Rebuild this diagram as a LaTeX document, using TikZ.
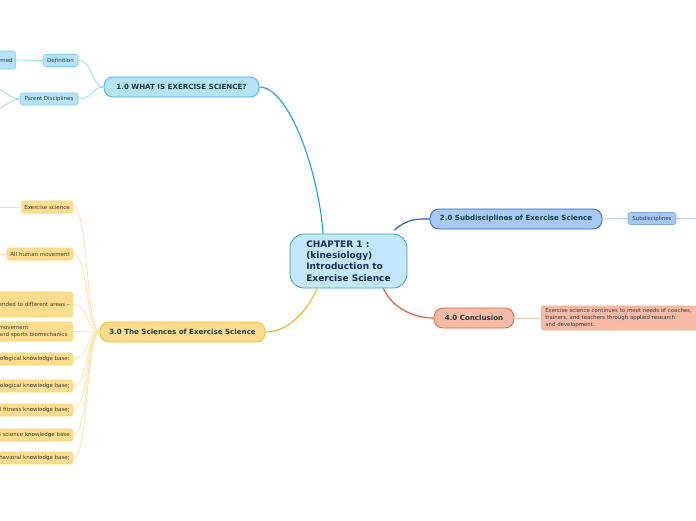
\documentclass[tikz,border=0pt]{standalone}
\usepackage{fontspec}
\setmainfont{DejaVu Sans}
\definecolor{cfill}{HTML}{C2E8FB}
\definecolor{cdraw}{HTML}{3D9AD6}
\definecolor{ctext}{HTML}{1A2B5C}
\definecolor{brtext}{HTML}{17403A}
\definecolor{lftext}{HTML}{3A3A3A}
\definecolor{afill}{HTML}{B5E3FA}
\definecolor{adraw}{HTML}{3DB5EC}
\definecolor{aline}{HTML}{1BA1E2}
\definecolor{aleafd}{HTML}{7FD0F5}
\definecolor{aleafl}{HTML}{8CD5F5}
\definecolor{bfill}{HTML}{A6C8F5}
\definecolor{bdraw}{HTML}{2762C9}
\definecolor{bline}{HTML}{1E58C8}
\definecolor{bleafd}{HTML}{7EA8E8}
\definecolor{bleafl}{HTML}{A6C4F0}
\definecolor{yfill}{HTML}{FFDD8C}
\definecolor{ydraw}{HTML}{F8B820}
\definecolor{yline}{HTML}{F9B31B}
\definecolor{yleafd}{HTML}{FFD36A}
\definecolor{yleafl}{HTML}{FFE099}
\definecolor{rfill}{HTML}{F9BBA6}
\definecolor{rdraw}{HTML}{E8623A}
\definecolor{rline}{HTML}{E7542B}
\definecolor{rleafd}{HTML}{F3A88E}
\definecolor{rleafl}{HTML}{F9C6B4}
\begin{document}
\begin{tikzpicture}[x=1pt,y=-1pt,
  central/.style={draw=cdraw, fill=cfill, line width=0.8pt, rounded corners=14pt,
    minimum width=117pt, minimum height=54pt, align=left, text=ctext,
    font=\fontsize{9}{11.3}\selectfont\bfseries},
  branch/.style={rounded corners=9pt, minimum height=20pt, inner sep=2pt, line width=0.8pt,
    text=brtext, font=\fontsize{7.1}{8}\selectfont\bfseries},
  leaf/.style={rounded corners=2.5pt, minimum height=12pt, inner xsep=3pt, inner ysep=2pt,
    line width=0.6pt, text=lftext, font=\fontsize{5.5}{7}\selectfont},
  abr/.style={branch, draw=adraw, fill=afill},
  bbr/.style={branch, draw=bdraw, fill=bfill},
  ybr/.style={branch, draw=ydraw, fill=yfill},
  rbr/.style={branch, draw=rdraw, fill=rfill},
  aleaf/.style={leaf, draw=aleafd, fill=afill},
  bleaf/.style={leaf, draw=bleafd, fill=bfill},
  yleaf/.style={leaf, draw=yleafd, fill=yfill},
  rleaf/.style={leaf, draw=rleafd, fill=rfill},
  mainline/.style={line width=1.1pt},
  thinline/.style={line width=0.7pt}
]
\fill[white] (0,0) rectangle (696,520);
\useasboundingbox (0,0) rectangle (696,520);
\clip (0,0) rectangle (696,520);

\coordinate (pdA) at (-12,85);
\coordinate (pdB) at (-12,113);
\coordinate (subR) at (710,219);
\coordinate (esL) at (-10,207);
\coordinate (ahmL) at (-10,254);

% nodes
\node[central] (c) at (348.5,261) {CHAPTER 1 :\\(kinesiology)\\Introduction to\\Exercise Science};
\node[abr, minimum width=155pt] (b1) at (181.5,87) {1.0 WHAT IS EXERCISE SCIENCE?};
\node[bbr, minimum width=172pt] (b2) at (516,219) {2.0 Subdisciplines of Exercise Science};
\node[ybr, minimum width=165pt] (b3) at (182.5,332) {3.0 The Sciences of Exercise Science};
\node[rbr, minimum width=80pt] (b4) at (474,318) {4.0 Conclusion};

\node[aleaf, minimum width=35pt] (def) at (60.5,60.5) {Definition};
\node[aleaf, anchor=east, minimum height=18pt] (formed) at (16,60) {formed};
\node[aleaf, minimum width=58pt] (pd) at (49,99) {Parent Disciplines};
\node[bleaf, minimum width=48pt] (sub) at (652,218.5) {Subdisciplines};
\node[rleaf, anchor=west, text width=156pt, align=left, minimum height=24pt, inner xsep=4pt, font=\fontsize{5.4}{6.7}\selectfont] (concl) at (541,318)
  {Exercise science continues to meet needs of coaches,\\trainers, and teachers through applied research\\and development.};

\node[yleaf, anchor=east] (es) at (73,207) {Exercise science};
\node[yleaf, anchor=east] (ahm) at (73,254) {All human movement};
\node[yleaf, anchor=east, minimum height=25pt] (ext) at (73,304.5) {extended to different areas –};
\node[yleaf, anchor=east, text width=71pt, align=left, minimum height=19pt] (mov) at (73,331.5) {movement\\and sports biomechanics};
\node[yleaf, anchor=east] (k1) at (73,359) {Physiological knowledge base:};
\node[yleaf, anchor=east] (k2) at (73,386) {Psychological knowledge base;};
\node[yleaf, anchor=east] (k3) at (73,410) {Physical fitness knowledge base;};
\node[yleaf, anchor=east] (k4) at (73,435) {Social science knowledge base};
\node[yleaf, anchor=east] (k5) at (73,458) {Behavioral knowledge base;};

% main connectors
\draw[mainline, aline] ([xshift=-25.5pt]c.north) .. controls +(-4,-60) and +(30,0) .. (b1.east);
\draw[mainline, bline] ([xshift=-13pt,yshift=3.5pt]c.north east) .. controls +(14,-12) and +(-12,0) .. (b2.west);
\draw[mainline, rline] ([xshift=-24pt]c.south east) .. controls +(8,18) and +(-22,0) .. (b4.west);
\draw[mainline, yline] ([xshift=-31pt]c.south) .. controls +(-12,25) and +(22,0) .. (b3.east);

% 1.0 children
\draw[thinline, aleafl] (def.east) .. controls +(15,0) and +(-12,0) .. (b1.west);
\draw[thinline, aleafl] (pd.east) .. controls +(15,0) and +(-12,0) .. (b1.west);
\draw[thinline, aleafl] (formed.east) -- (def.west);
\draw[thinline, aleafl] (pd.west) .. controls +(-10,0) and +(10,0) .. (pdA);
\draw[thinline, aleafl] (pd.west) .. controls +(-10,0) and +(10,0) .. (pdB);

% 2.0 child
\draw[thinline, bleafl] (b2.east) -- (sub.west);
\draw[thinline, bleafl] (sub.east) -- (subR);

% 4.0 child
\draw[thinline, rleafl] (b4.east) -- (concl.west);

% 3.0 children
\foreach \n in {es,ahm,ext,mov,k1,k2,k3,k4,k5}{
  \draw[thinline, yleafl] (\n.east) .. controls +(16,0) and +(-14,0) .. (b3.west);
}
\draw[thinline, yleafl] (es.west) -- (esL);
\draw[thinline, yleafl] (ahm.west) -- (ahmL);
\end{tikzpicture}
\end{document}
